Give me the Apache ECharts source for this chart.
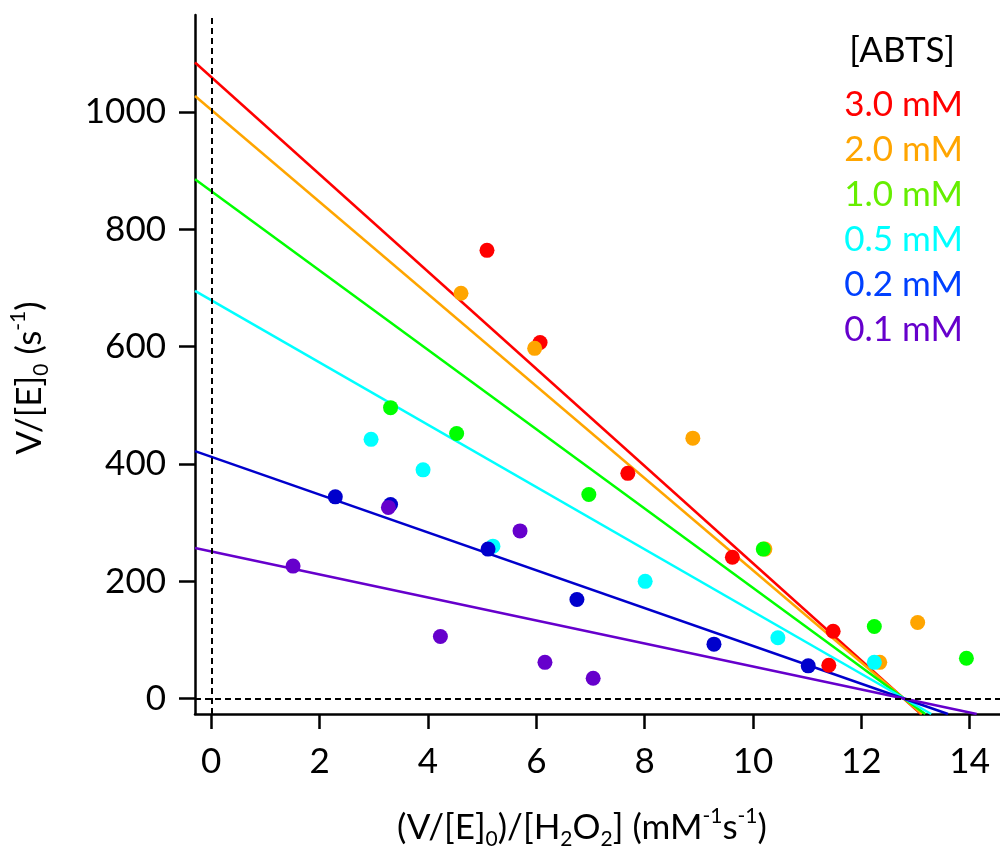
<!DOCTYPE html>
<html>
<head>
<meta charset="utf-8">
<script src="https://cdn.jsdelivr.net/npm/echarts@6/dist/echarts.min.js"></script>
<style>
  html, body { margin: 0; padding: 0; background: #fff; }
  #chart { width: 1000px; height: 848px; }
</style>
</head>
<body>
<div id="chart"></div>
<script>
// ABTS concentrations (legend order)
const concLabels = ['3.0 mM', '2.0 mM', '1.0 mM', '0.5 mM', '0.2 mM', '0.1 mM']
const dotColors = ['#ff0000', '#ffa500', '#00ff00', '#00ffff', '#0000cc', '#6600cc']
const legendColors = ['#ff0000', '#ffa500', '#66ee00', '#00ffff', '#0040ff', '#6600cc']

// measured points [x, y] : x = (V/[E]0)/[H2O2], y = V/[E]0
const pts30 = [[5.09, 764], [6.07, 607], [7.69, 384], [9.62, 241], [11.48, 115], [11.40, 57]]
const pts20 = [[4.61, 691], [5.97, 597], [8.89, 444], [10.22, 255], [13.04, 130], [12.34, 62]]
const pts10 = [[3.31, 496], [4.53, 452], [6.97, 348], [10.19, 255], [12.24, 123], [13.94, 69]]
const pts05 = [[2.95, 442], [3.91, 390], [5.20, 260], [8.01, 200], [10.46, 104], [12.24, 62]]
const pts02 = [[2.29, 344], [3.31, 331], [5.11, 255], [6.75, 169], [9.28, 93], [11.02, 56]]
const pts01 = [[1.51, 226], [3.27, 326], [4.23, 106], [5.70, 286], [6.16, 62], [7.05, 35]]

// fitted lines, end points
const fit30 = [[-0.3, 1084], [13.1, -26]]
const fit20 = [[-0.3, 1027], [13.12, -26]]
const fit10 = [[-0.3, 885], [13.18, -26]]
const fit05 = [[-0.3, 695], [13.29, -26]]
const fit02 = [[-0.3, 422], [13.6, -26]]
const fit01 = [[-0.3, 257], [14.13, -26]]

const xTicks = [0, 2, 4, 6, 8, 10, 12, 14]
const yTicks = [0, 200, 400, 600, 800, 1000]

const points = [pts30, pts20, pts10, pts05, pts02, pts01]
const fits = [fit30, fit20, fit10, fit05, fit02, fit01]

const font = 'Lato, "DejaVu Sans", sans-serif'
const chart = echarts.init(document.getElementById('chart'))

const series = []
// lines first
fits.forEach((d, i) => {
  series.push({
    name: concLabels[i] + ' fit',
    type: 'line',
    data: d,
    symbol: 'none',
    lineStyle: { color: dotColors[i], width: 2.5 },
    silent: true,
    z: 2,
  })
})
// dots, drawn red -> purple so later ones sit on top
points.forEach((d, i) => {
  series.push({
    name: concLabels[i],
    type: 'scatter',
    data: d,
    symbol: 'circle',
    symbolSize: 15,
    itemStyle: { color: dotColors[i], opacity: 1 },
    z: 3 + i,
  })
})
// dashed zero lines
series.push({
  type: 'line',
  data: [],
  silent: true,
  markLine: {
    symbol: 'none',
    silent: true,
    label: { show: false },
    lineStyle: { color: '#000', type: [6, 4], width: 2 },
    data: [{ xAxis: 0 }, { yAxis: 0 }],
  },
  z: 1,
})

// sub / superscripts for the axis titles
const titleRich = {
  n: { fontFamily: font, fontSize: 35, lineHeight: 44, fill: '#000' },
  sub: { fontFamily: font, fontSize: 21, lineHeight: 22, fill: '#000', verticalAlign: 'bottom' },
  sup: { fontFamily: font, fontSize: 21, lineHeight: 22, fill: '#000', verticalAlign: 'top' },
}

const options = {
  animation: false,
  grid: { left: 195, right: 0, top: 15, bottom: 134, containLabel: false, outerBoundsMode: 'none' },
  xAxis: {
    type: 'value',
    min: -0.3,
    max: 14.56,
    axisLine: { onZero: false, lineStyle: { color: '#000', width: 2.5 } },
    axisTick: { show: true, length: 15, inside: false, customValues: xTicks, lineStyle: { color: '#000', width: 2.5 } },
    axisLabel: { customValues: xTicks, margin: 30, fontFamily: font, fontSize: 35, color: '#000' },
    splitLine: { show: false },
  },
  yAxis: {
    type: 'value',
    min: -26,
    max: 1165,
    axisLine: { onZero: false, lineStyle: { color: '#000', width: 2.5 } },
    axisTick: { show: true, length: 16, inside: false, customValues: yTicks, lineStyle: { color: '#000', width: 2.5 } },
    axisLabel: { customValues: yTicks, margin: 29, formatter: (v) => String(v), fontFamily: font, fontSize: 35, color: '#000' },
    splitLine: { show: false },
  },
  graphic: [
    {
      type: 'text', x: 582, y: 828,
      style: {
        text: '{n|(V/[E]}{sub|0}{n|)/[H}{sub|2}{n|O}{sub|2}{n|] (mM}{sup|-1}{n|s}{sup|-1}{n|)}',
        align: 'center', verticalAlign: 'middle', rich: titleRich,
      },
    },
    {
      type: 'text', x: 30, y: 378, rotation: Math.PI / 2,
      style: {
        text: '{n|V/[E]}{sub|0}{n| (s}{sup|-1}{n|)}',
        align: 'center', verticalAlign: 'middle', rich: titleRich,
      },
    },
    {
      type: 'text', right: 45, top: 33,
      style: { text: '[ABTS]', fontFamily: font, fontSize: 35, fill: '#000' },
    },
  ].concat(concLabels.map((t, i) => ({
    type: 'text', right: 37, top: 87 + i * 45,
    style: { text: t, fontFamily: font, fontSize: 35, fill: legendColors[i] },
  }))),
  series,
}
chart.setOption(options, true)
</script>
</body>
</html>
